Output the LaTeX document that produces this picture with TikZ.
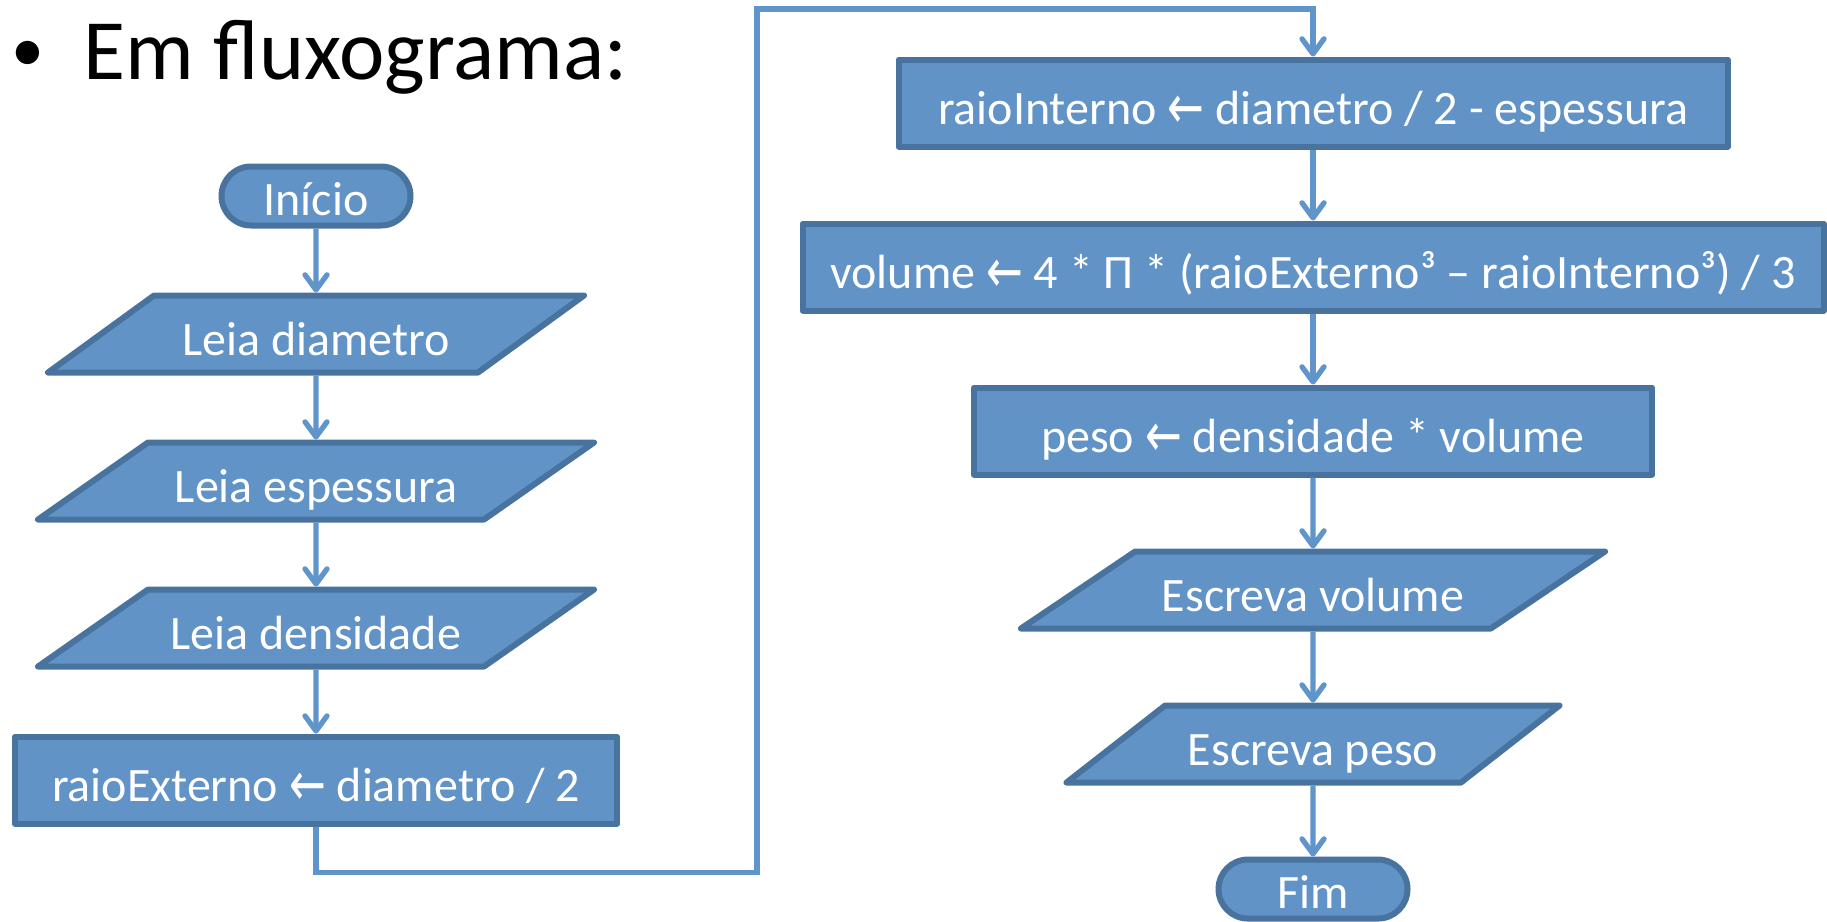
\documentclass[tikz,border=0pt]{standalone}
\usepackage{fontspec}
\setmainfont{Carlito}
\newfontfamily\setas{DejaVu Sans}
\usepackage{graphicx}
\usepackage{tikz}
\usetikzlibrary{positioning,arrows.meta,shapes.geometric,shapes.misc}
\definecolor{caixa}{HTML}{6193C7}
\definecolor{borda}{HTML}{48739F}
\definecolor{linha}{HTML}{5F95CB}
\newcommand{\recebe}{{\setas\fontsize{44}{52}\selectfont\raisebox{-4pt}{\scalebox{1}[1.4]{←}}}}
\tikzset{
  bloco/.style={draw=borda, fill=caixa, line width=6pt, line join=round, text=white,
    font=\fontsize{48}{58}\selectfont, inner xsep=0pt, inner ysep=9.5pt,
    text height=50pt, text depth=8pt},
  terminal/.style={bloco, rounded rectangle, minimum width=189pt, minimum height=59pt,
    inner ysep=0pt, text height=49pt, text depth=10pt},
  processo/.style={bloco, rectangle, minimum height=87pt},
  entrada/.style={bloco, trapezium, trapezium left angle=#1, trapezium right angle=180-#1,
    trapezium stretches body},
  entrada/.default=36,
  conector/.style={draw=linha, line width=5.3pt},
}
\begin{document}
\begin{tikzpicture}[x=1pt,y=-1pt,>={Straight Barb[length=15pt,width=22pt,round]},node distance=64pt]
\useasboundingbox (0,0) rectangle (1827,921);
\node[font=\fontsize{66}{80}\selectfont] (marca) at (28,56) {•};
\node[font=\fontsize{86}{100}\selectfont, anchor=base west] (titulo) at (80,79) {Em fluxograma:};
\node[terminal] (P0) at (316,196) {Início};
\node[entrada=36, minimum width=536pt] (P1) [below=of P0] {Leia diametro};
\node[entrada=35, minimum width=556pt] (P2) [below=of P1] {Leia espessura};
\node[entrada=35, minimum width=556pt] (P3) [below=of P2] {Leia densidade};
\node[processo, minimum width=602pt] (P4) [below=of P3] {raioExterno \recebe{} diametro / 2};
\node[processo, minimum width=829pt] (P5) at (1313,103) {raioInterno \recebe{} diametro / 2 - espessura};
\node[processo, minimum width=1021pt] (P6) [below=71pt of P5] {volume \recebe{} 4 * Π * (raioExterno³ – raioInterno³) / 3};
\node[processo, minimum width=678pt] (P7) [below=71pt of P6] {peso \recebe{} densidade * volume};
\node[entrada=34, minimum width=584pt] (P8) [below=71pt of P7] {Escreva volume};
\node[entrada=38, minimum width=493pt] (P9) [below=71pt of P8] {Escreva peso};
\node[terminal] (P10) [below=71pt of P9] {Fim};
\coordinate (volta) at (757,9);
\draw [conector,->] (P0) -- (P1);
\draw [conector,->] (P1) -- (P2);
\draw [conector,->] (P2) -- (P3);
\draw [conector,->] (P3) -- (P4);
\draw [conector,->] (P4.south) -- ++(0,46) -| (volta) -| (P5.north);
\draw [conector,->] (P5) -- (P6);
\draw [conector,->] (P6) -- (P7);
\draw [conector,->] (P7) -- (P8);
\draw [conector,->] (P8) -- (P9);
\draw [conector,->] (P9) -- (P10);
\end{tikzpicture}
\end{document}
